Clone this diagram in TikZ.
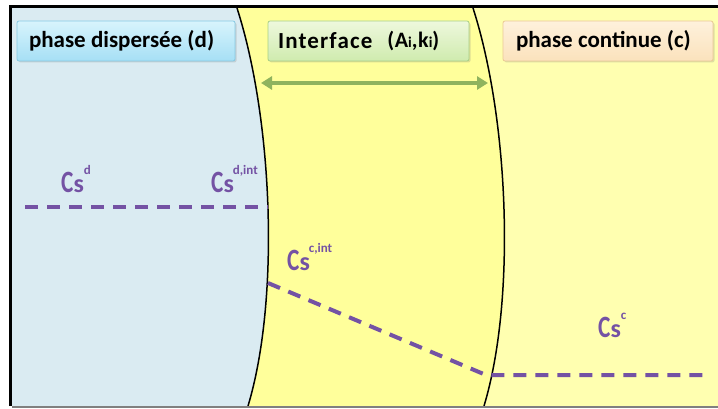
\documentclass[tikz,border=0pt]{standalone}
\usepackage{fontspec}
\setmainfont{Carlito}
\usetikzlibrary{arrows.meta,shadows}
\definecolor{leftB}{HTML}{DAEBF2}
\definecolor{midY}{HTML}{FFFF9B}
\definecolor{rightY}{HTML}{FFFFB0}
\definecolor{purp}{HTML}{7452A4}
\definecolor{arrG}{HTML}{8FB35E}
\definecolor{bdTop}{HTML}{D8F4FC}
\definecolor{bdBot}{HTML}{A6DFF5}
\definecolor{bdLine}{HTML}{86C9E3}
\definecolor{biTop}{HTML}{EEF8DD}
\definecolor{biBot}{HTML}{CFEBAE}
\definecolor{biLine}{HTML}{A9CF85}
\definecolor{bcTop}{HTML}{FEF1DC}
\definecolor{bcBot}{HTML}{FBE2BC}
\definecolor{bcLine}{HTML}{EBC994}
\newcommand{\csl}[2]{{\fontsize{31}{31}\selectfont\scalebox{0.75}[1]{C}}{\fontsize{26}{26}\selectfont s}\kern#2\raisebox{18pt}{\fontsize{13}{13}\selectfont #1}}
\begin{document}
\begin{tikzpicture}[x=1pt,y=-1pt,
  boxd/.style={line width=0.8pt, rounded corners=2pt, minimum height=40pt, inner sep=0pt,
     font=\fontsize{23}{23}\selectfont\bfseries, text=black, drop shadow={opacity=0.25, shadow xshift=1.5pt, shadow yshift=-1.5pt}},
  cs/.style={anchor=base west, inner sep=0pt, text=purp, font=\bfseries},
  dashline/.style={purp, line width=4pt, dash pattern=on 13pt off 9pt},
  border/.style={line width=1.5pt}]
\useasboundingbox (0,0) rectangle (718,409);
\fill[white] (0,0) rectangle (718,409);
% regions
\fill[rightY] (12,8) rectangle (718,406);
\fill[midY] (237,8) .. controls (273,120) and (280,300) .. (248,406) -- (484,406) .. controls (516,300) and (509,120) .. (473,8) -- cycle;
\fill[leftB] (12,8) -- (237,8) .. controls (273,120) and (280,300) .. (248,406) -- (12,406) -- cycle;
\draw[border] (237,8) .. controls (273,120) and (280,300) .. (248,406);
\draw[border] (473,8) .. controls (509,120) and (516,300) .. (484,406);
% frame
\draw[line width=3pt] (10.5,406) -- (10.5,7) -- (718,7);
\draw[gray, line width=1.5pt] (12,407) -- (718,407);
% boxes
\node[boxd, draw=bdLine, top color=bdTop, bottom color=bdBot, minimum width=218pt] (bd) at (126,41) {\makebox[218pt][l]{\hspace{12pt}phase dispersée (d)}};
\node[boxd, draw=biLine, top color=biTop, bottom color=biBot, minimum width=201pt] (bi) at (368.5,41)
  {\makebox[201pt][l]{\hspace{10pt}{\addfontfeatures{LetterSpace=5}Interface}\hspace{15pt}\raisebox{1.5pt}{\fontsize{22}{22}\selectfont\addfontfeatures{LetterSpace=3}(A{\fontsize{15}{15}\selectfont i},k{\fontsize{15}{15}\selectfont i})}}};
\node[boxd, draw=bcLine, top color=bcTop, bottom color=bcBot, minimum width=210pt] (bc) at (608,41) {\makebox[210pt][l]{\hspace{13pt}phase continue (c)}};
% arrow
\coordinate (al) at (261,83);
\coordinate (ar) at (488,83);
\draw[arrG, line width=4pt, {Triangle[length=11pt,width=13pt]}-{Triangle[length=11pt,width=13pt]}] (al) -- (ar);
% labels
\node[cs] (csd) at (61,193) {\csl{d}{0pt}};
\node[cs] (csdi) at (211,193) {\csl{d,int}{-1pt}};
\node[cs] (csci) at (287,270) {\csl{c,int}{-1pt}};
\node[cs] (csc) at (598,337) {\csl{c}{0pt}};
% dashed lines
\coordinate (d1) at (25,207);
\coordinate (d2) at (268,207);
\coordinate (e1) at (268,283);
\coordinate (e2) at (486,375);
\coordinate (e3) at (706,375);
\draw[dashline] (d1) -- (d2);
\draw[dashline] (e1) -- (e2) -- (e3);
\end{tikzpicture}
\end{document}
